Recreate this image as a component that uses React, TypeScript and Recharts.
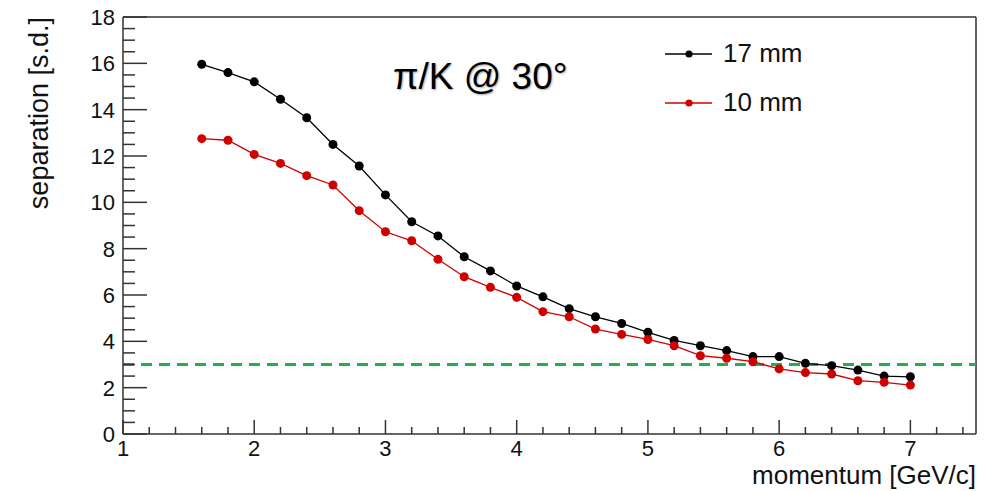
import {
  LineChart, Line, XAxis, YAxis, ReferenceLine, Legend,
} from "recharts"

// momentum values [GeV/c]
const momentum = [
  1.6, 1.8, 2.0, 2.2, 2.4, 2.6, 2.8, 3.0, 3.2, 3.4, 3.6, 3.8, 4.0, 4.2,
  4.4, 4.6, 4.8, 5.0, 5.2, 5.4, 5.6, 5.8, 6.0, 6.2, 6.4, 6.6, 6.8, 7.0,
]
// pi/K separation [s.d.], 17 mm radiator
const sep17mm = [
  15.96, 15.6, 15.2, 14.45, 13.65, 12.5, 11.57, 10.32, 9.16, 8.55, 7.65, 7.04, 6.39, 5.92,
  5.41, 5.06, 4.77, 4.39, 4.04, 3.81, 3.6, 3.34, 3.34, 3.05, 2.95, 2.76, 2.5, 2.47,
]
// pi/K separation [s.d.], 10 mm radiator
const sep10mm = [
  12.75, 12.68, 12.07, 11.68, 11.15, 10.75, 9.64, 8.73, 8.34, 7.54, 6.79, 6.33, 5.9, 5.28,
  5.06, 4.53, 4.3, 4.08, 3.81, 3.38, 3.27, 3.12, 2.81, 2.65, 2.59, 2.3, 2.23, 2.11,
]
const threshold = 3

const seriesNames = ["17 mm", "10 mm"]

const xMajorTicks = [1, 2, 3, 4, 5, 6, 7]
const xMinorStep = 0.2
const yMajorTicks = [0, 2, 4, 6, 8, 10, 12, 14, 16, 18]
const yMinorStep = 0.5

const xDomain: [number, number] = [1, 7.5]
const yDomain: [number, number] = [0, 18]

const FONT = "'Liberation Sans', Arial, Helvetica, sans-serif"
const AXIS = "#333"
const RED = "#d00000"
const GREEN = "#1db24a"
const seriesColors = ["#000", RED]

const data = momentum.map((p, i) => ({ p, s17: sep17mm[i], s10: sep10mm[i] }))

// minor + major tick positions (rounded to avoid float noise)
const steps = (lo: number, hi: number, step: number) => {
  const out: number[] = []
  for (let v = lo; v < hi + 1e-9; v += step) out.push(Math.round(v * 1000) / 1000)
  return out
}
const xTicks = steps(xDomain[0], 7.4, xMinorStep)
const yTicks = steps(yDomain[0], yDomain[1], yMinorStep)

const isMajor = (v: number, majors: number[]) => majors.some(m => Math.abs(m - v) < 1e-6)

function XTick({ x, y, payload }: any) {
  const v = payload.value
  const major = isMajor(v, xMajorTicks)
  return (
    <g>
      <line x1={x} x2={x} y1={y} y2={y - (major ? 14 : 7)} stroke={AXIS} strokeWidth={1.5} />
      {major && (
        <text x={x} y={y + 22} textAnchor="middle" fontSize={22} fontFamily={FONT} fill="#111">
          {v}
        </text>
      )}
    </g>
  )
}

function YTick({ x, y, payload }: any) {
  const v = payload.value
  const major = isMajor(v, yMajorTicks)
  return (
    <g>
      <line x1={x} x2={x + (major ? 24 : 12)} y1={y} y2={y} stroke={AXIS} strokeWidth={1.5} />
      {major && (
        <text x={x - 8} y={y + 8} textAnchor="end" fontSize={22} fontFamily={FONT} fill="#111">
          {v}
        </text>
      )}
    </g>
  )
}

function LegendBox() {
  return (
    <div style={{ fontFamily: FONT, fontSize: 26, color: "#111" }}>
      {seriesNames.map((name, i) => (
        <div key={name} style={{ display: "flex", alignItems: "center", height: 49 }}>
          <svg width={58} height={20}>
            <line x1={0} x2={47} y1={10} y2={10} stroke={seriesColors[i]} strokeWidth={1.3} />
            <circle cx={24} cy={10} r={3.6} fill={seriesColors[i]} />
          </svg>
          <span>{name}</span>
        </div>
      ))}
    </div>
  )
}

export default function App() {
  return (
    <div style={{ position: "absolute", left: 0, top: 0, width: 999, height: 491, background: "#fff" }}>
      <LineChart width={999} height={491} data={data} margin={{ top: 17, right: 23, left: 0, bottom: 0 }}>
        <XAxis
          dataKey="p" type="number" domain={xDomain} ticks={xTicks} interval={0}
          allowDataOverflow height={57} tickSize={0} tickMargin={0}
          axisLine={{ stroke: AXIS, strokeWidth: 1.5 }} tickLine={false}
          tick={<XTick />}
          label={({ viewBox }: any) => (
            <text x={viewBox.x + viewBox.width} y={viewBox.y + 50} textAnchor="end"
              fontSize={26} fontFamily={FONT} fill="#111">
              momentum [GeV/c]
            </text>
          )}
        />
        <YAxis
          type="number" domain={yDomain} ticks={yTicks} interval={0}
          allowDataOverflow width={123} tickSize={0} tickMargin={0}
          axisLine={{ stroke: AXIS, strokeWidth: 1.5 }} tickLine={false}
          tick={<YTick />}
          label={({ viewBox }: any) => (
            <text x={48} y={viewBox.y} textAnchor="end" transform={`rotate(-90 48 ${viewBox.y})`}
              fontSize={27} fontFamily={FONT} fill="#111">
              separation [s.d.]
            </text>
          )}
        />

        {/* frame: top and right edges */}
        <ReferenceLine y={yDomain[1]} stroke={AXIS} strokeWidth={1.5} />
        <ReferenceLine x={xDomain[1]} stroke={AXIS} strokeWidth={1.5} />

        <ReferenceLine y={threshold} stroke={GREEN} strokeWidth={3} strokeDasharray="11 7" />

        <Line
          dataKey="s17" name={seriesNames[0]} type="linear" stroke={seriesColors[0]} strokeWidth={1.3}
          dot={{ r: 4.5, fill: seriesColors[0], stroke: "none" }} activeDot={false}
          isAnimationActive={false}
        />
        <Line
          dataKey="s10" name={seriesNames[1]} type="linear" stroke={seriesColors[1]} strokeWidth={1.3}
          dot={{ r: 4.5, fill: seriesColors[1], stroke: "none" }} activeDot={false}
          isAnimationActive={false}
        />

        <Legend
          layout="vertical" align="center" verticalAlign="middle"
          content={<LegendBox />}
          wrapperStyle={{ left: 665, top: 29, width: 200, height: 100 }}
        />
      </LineChart>

      <div style={{
        position: "absolute", left: 393, top: 52, fontFamily: FONT, fontSize: 37,
        color: "#000", textShadow: "1px 1px 2px rgba(0,0,0,0.35)", whiteSpace: "nowrap",
        lineHeight: "50px",
      }}>
        π/K @ 30°
      </div>
    </div>
  )
}
